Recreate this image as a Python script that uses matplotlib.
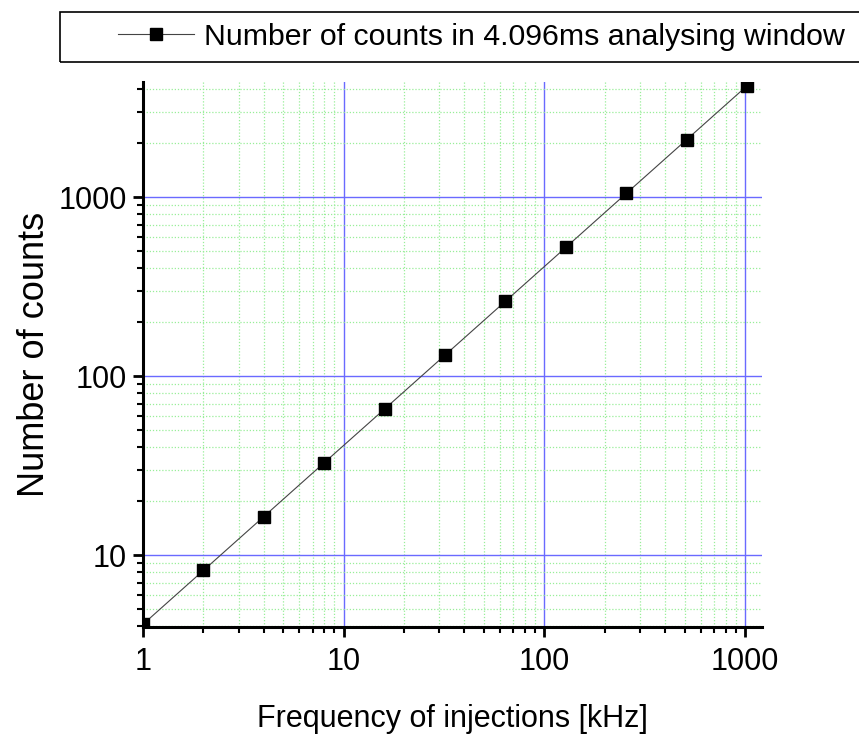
"""Counts in a 4.096 ms analysing window vs. injection frequency (log-log)."""

import matplotlib

matplotlib.use("Agg")
import matplotlib.pyplot as plt
from matplotlib.patches import Rectangle
from matplotlib.ticker import LogLocator, NullFormatter, FixedLocator, FixedFormatter

plt.rcParams["font.family"] = ["Liberation Sans", "DejaVu Sans"]

# data
freq_khz = [1, 2, 4, 8, 16, 32, 64, 128, 256, 512, 1024]
counts = [4.1, 8.2, 16.4, 32.8, 65.5, 131, 262, 524, 1049, 2097, 4194]
x_ticks = [1, 10, 100, 1000]
x_tick_labels = ["1", "10", "100", "1000"]
y_ticks = [10, 100, 1000]
y_tick_labels = ["10", "100", "1000"]
series_label = "Number of counts in 4.096ms analysing window"

W, H = 859, 736
fig = plt.figure(figsize=(W / 100, H / 100), dpi=100)
ax = fig.add_axes([143 / W, 1 - 627 / H, (762 - 143) / W, (627 - 82) / H])

line, = ax.plot(freq_khz, counts, color="#444444", linewidth=0.8,
                marker="s", markersize=9, markerfacecolor="black",
                markeredgecolor="black", label=series_label)

ax.set_xscale("log")
ax.set_yscale("log")
ax.set_xlim(1, 1215)
ax.set_ylim(3.96, 4400)

ax.xaxis.set_major_locator(FixedLocator(x_ticks))
ax.xaxis.set_major_formatter(FixedFormatter(x_tick_labels))
ax.yaxis.set_major_locator(FixedLocator(y_ticks))
ax.yaxis.set_major_formatter(FixedFormatter(y_tick_labels))
ax.xaxis.set_minor_locator(LogLocator(base=10, subs=range(2, 10), numticks=20))
ax.yaxis.set_minor_locator(LogLocator(base=10, subs=range(2, 10), numticks=20))
ax.xaxis.set_minor_formatter(NullFormatter())
ax.yaxis.set_minor_formatter(NullFormatter())

ax.grid(which="major", color="#6a6aff", linewidth=1.0, linestyle="-")
ax.grid(which="minor", color="#99ee99", linewidth=0.9, linestyle=(0, (1, 1.5)))
ax.set_axisbelow(True)

for side in ("top", "right"):
    ax.spines[side].set_visible(False)
for side in ("left", "bottom"):
    ax.spines[side].set_linewidth(2.2)

ax.tick_params(which="major", direction="out", length=7.5, width=2, labelsize=22)
ax.tick_params(which="minor", direction="out", length=4.5, width=1.5)
ax.tick_params(axis="x", which="major", pad=7)
ax.tick_params(axis="y", which="major", pad=4)

ax.set_xlabel("Frequency of injections [kHz]", fontsize=22, labelpad=19)
ax.set_ylabel("Number of counts", fontsize=26, labelpad=5)

# legend box sits above the axes, running off the right edge
fig.patches.append(Rectangle((60 / W, 1 - 62 / H), (W + 5 - 60) / W, 50 / H,
                             transform=fig.transFigure, fill=False,
                             edgecolor="black", linewidth=1.2))
fig.legend(handles=[line], loc="center left",
           bbox_to_anchor=(118 / W, 1 - 37 / H), fontsize=21.8,
           handlelength=2.5, handletextpad=0.35, frameon=False,
           borderpad=0, borderaxespad=0)

fig.savefig("out.png", dpi=100)
